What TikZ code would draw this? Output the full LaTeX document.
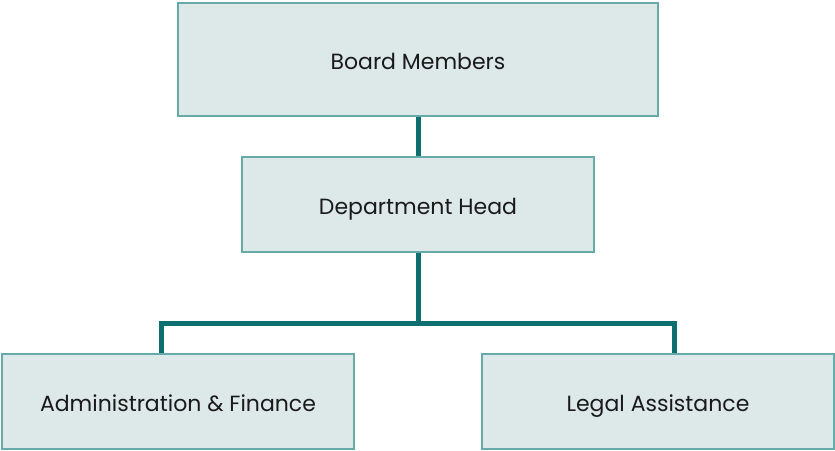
\documentclass[tikz,border=0pt]{standalone}
\usepackage{fontspec}
\setmainfont{Poppins}
\definecolor{boxfill}{HTML}{DDE8E8}
\definecolor{boxline}{HTML}{66AAAA}
\definecolor{conn}{HTML}{0D6F6F}
\definecolor{txt}{HTML}{1A1A1A}
\begin{document}
\begin{tikzpicture}[x=1pt,y=-1pt,
  orgbox/.style={draw=boxline, line width=1.5pt, fill=boxfill, inner sep=0pt,
    text=txt, font=\fontsize{22}{26}\selectfont, text height=20pt, text depth=0pt},
  link/.style={draw=conn, line width=5pt}]
\useasboundingbox (0,0) rectangle (835,450);
\node[orgbox, minimum width=480, minimum height=113] (board) at (418,59.5) {Board Members};
\node[orgbox, minimum width=352, minimum height=95] (dept) at (418,204.5) {Department Head};
\node[orgbox, minimum width=352, minimum height=95] (admin) at (178,401.5) {Administration \& Finance};
\node[orgbox, minimum width=352, minimum height=95] (legal) at (658,401.5) {Legal Assistance};
\coordinate (jl) at (161.5,323.5);
\coordinate (jr) at (674.5,323.5);
\draw[link] (board.south) -- (dept.north);
\draw[link] (dept.south) -- (dept.south |- jl);
\draw[link] (admin.north -| jl) -- (jl) -- (jr) -- (legal.north -| jr);
\end{tikzpicture}
\end{document}
